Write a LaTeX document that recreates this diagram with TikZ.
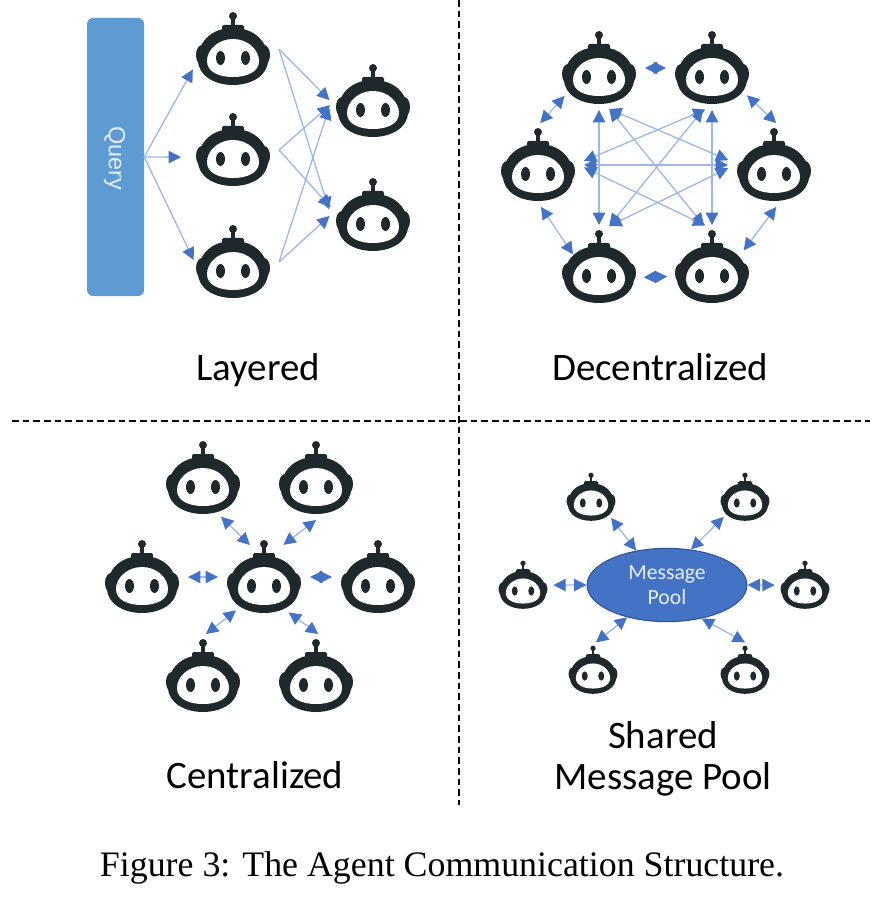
\documentclass[tikz,border=0pt]{standalone}
\usepackage{fontspec}
\setmainfont{Carlito}
\newfontfamily\didascalia{Liberation Serif}
\newfontfamily\barrafont{Liberation Sans}
\usetikzlibrary{arrows.meta,shapes.geometric}

\definecolor{inchiostro}{RGB}{31,41,43}
\definecolor{bluepunta}{RGB}{68,114,196}
\definecolor{bluefilo}{RGB}{157,184,232}
\definecolor{bluebarra}{RGB}{94,155,211}
\definecolor{bluebordo}{RGB}{47,82,143}
\definecolor{testochiaro}{RGB}{230,238,248}

\tikzset{
  punta/.tip={Triangle[color=bluepunta, length=0.37cm, width=0.37cm]},
  robot/.pic={
    \fill[inchiostro] (0,-42) circle (4);
    \fill[inchiostro] (-1.6,-42) rectangle (1.6,-28);
    \fill[inchiostro, rounded corners=0.06cm] (-11,-33) rectangle (11,-25);
    \fill[inchiostro] (-31,-3) ellipse [x radius=6, y radius=10];
    \fill[inchiostro] (31,-3) ellipse [x radius=6, y radius=10];
    \fill[inchiostro] (0,-30) .. controls (22,-30) and (35,-16) .. (35,2) .. controls (35,18) and (18,27) .. (0,27)
      .. controls (-18,27) and (-35,18) .. (-35,2) .. controls (-35,-16) and (-22,-30) .. (0,-30) -- cycle;
    \fill[white] (0,-19) .. controls (15,-19) and (26,-8) .. (26,3) .. controls (26,14) and (14,19) .. (0,19)
      .. controls (-14,19) and (-26,14) .. (-26,3) .. controls (-26,-8) and (-15,-19) .. (0,-19) -- cycle;
    \fill[inchiostro] (-12.5,0) ellipse [x radius=4.5, y radius=7];
    \fill[inchiostro] (12.5,0) ellipse [x radius=4.5, y radius=7];
    \node[ancora, transform shape] (-c) at (0,-9) {};
  }
}

\begin{document}
\begin{tikzpicture}[
  x=0.03cm, y=-0.03cm,
  ancora/.style={ellipse, inner sep=0pt, outer sep=0pt, minimum width=2.76cm, minimum height=2.52cm},
  filo/.style={draw=bluefilo, line width=0.04cm},
  freccia/.style={filo, -{punta}},
  doppia/.style={filo, {punta}-{punta}},
  etichetta/.style={inner sep=0pt, anchor=base, font=\fontsize{33.2}{35}\selectfont},
  barra/.style={fill=bluebarra, rounded corners=0.18cm, inner sep=0pt, minimum width=1.71cm, minimum height=8.34cm},
  pool/.style={ellipse, fill=bluepunta, draw=bluebordo, line width=0.03cm, inner sep=0pt, minimum width=4.8cm, minimum height=2.2cm},
  divisore/.style={draw=black, line width=0.04cm, dash pattern=on 0.2cm off 0.12cm}
]
\useasboundingbox (0,0) rectangle (882,908);

%--------------------------------------------------------------
% Divisori
%--------------------------------------------------------------
\draw[divisore] (459,0) -- (459,805);
\draw[divisore] (12,421) -- (870,421);

%--------------------------------------------------------------
% Layered
%--------------------------------------------------------------
\node[barra] (query) at (115.5,157) {};
\node[rotate=-90, inner sep=0pt, text=testochiaro, font=\barrafont\fontsize{20}{24}\selectfont] (querytesto) at (114.5,158) {Query};

\pic (lay1) at (233,58) {robot};
\pic (lay2) at (233,159) {robot};
\pic (lay3) at (233,271) {robot};
\pic (lay4) at (373,110) {robot};
\pic (lay5) at (373,224) {robot};

\draw[freccia] (query.east) -- (lay1-c.207);
\draw[freccia, shorten >=0.2cm] (query.east) -- (lay2-c.189);
\draw[freccia, shorten >=-0.33cm] (query.east) -- (lay3-c.165);

\foreach \da/\db in {lay1-c.east/lay4-c.176, lay2-c.east/lay4-c.188, lay3-c.east/lay4-c.192,
                     lay1-c.east/lay5-c.169, lay2-c.east/lay5-c.167, lay3-c.east/lay5-c.184}
  \draw[freccia, shorten >=-0.1cm] (\da) -- (\db);

\node[etichetta] (layered) at (258,380) {Layered};

%--------------------------------------------------------------
% Decentralized
%--------------------------------------------------------------
\pic (dec1) at (599,77) {robot};
\pic (dec2) at (712,77) {robot};
\pic (dec3) at (774,174) {robot};
\pic (dec4) at (712,276) {robot};
\pic (dec5) at (599,276) {robot};
\pic (dec6) at (538,174) {robot};

% anello esterno
\draw[doppia] (dec1-c.east) -- (dec2-c.west);
\draw[doppia] (dec5-c.-13) -- (dec4-c.192);
\draw[doppia] (dec6-c.87) -- (dec1-c.219);
\draw[doppia] (dec2-c.-38) -- (dec3-c.87);
\draw[doppia, shorten >=-0.51cm] (dec6-c.-86) -- (dec5-c.143);
\draw[doppia, shorten >=-0.29cm] (dec3-c.-87) -- (dec4-c.33);

% collegamenti interni
\foreach \da/\db in {dec1-c.south/dec5-c.north, dec2-c.south/dec4-c.north, dec6-c.east/dec3-c.west,
                     dec1-c.-76/dec4-c.101, dec2-c.258/dec5-c.76, dec6-c.5/dec2-c.261,
                     dec6-c.-3/dec4-c.99, dec3-c.174/dec1-c.-76, dec3-c.184/dec5-c.76}
  \draw[doppia] (\da) -- (\db);

\node[etichetta] (decentralized) at (660,380) {Decentralized};

%--------------------------------------------------------------
% Centralized
%--------------------------------------------------------------
\pic (cen0) at (264,586) {robot};
\pic (cen1) at (203,487) {robot};
\pic (cen2) at (316,487) {robot};
\pic (cen3) at (142,586) {robot};
\pic (cen4) at (378,586) {robot};
\pic (cen5) at (203,685) {robot};
\pic (cen6) at (316,685) {robot};

\draw[doppia, shorten >=-0.25cm] (cen1-c.-65) -- (cen0-c.118);
\draw[doppia, shorten >=-0.18cm] (cen2-c.south) -- (cen0-c.56);
\draw[doppia] (cen3-c.east) -- (cen0-c.west);
\draw[doppia] (cen0-c.east) -- (cen4-c.west);
\draw[doppia] (cen5-c.86) -- (cen0-c.230);
\draw[doppia] (cen0-c.-55) -- (cen6-c.87);

\node[etichetta] (centralized) at (255,788) {Centralized};

%--------------------------------------------------------------
% Shared Message Pool
%--------------------------------------------------------------
\node[pool] (messaggi) at (667,585) {};
\node[inner sep=0pt, align=center, text=testochiaro, font=\fontsize{18.5}{21}\selectfont] (messaggitesto) at (messaggi) {Message\\Pool};

\pic[scale=0.66] (sha1) at (591,503) {robot};
\pic[scale=0.66] (sha2) at (745,503) {robot};
\pic[scale=0.66] (sha3) at (523,591) {robot};
\pic[scale=0.66] (sha4) at (805,591) {robot};
\pic[scale=0.66] (sha5) at (593,676) {robot};
\pic[scale=0.66] (sha6) at (745,676) {robot};

\draw[doppia] (sha1-c.-46) -- (messaggi.132);
\draw[doppia] (sha2-c.223) -- (messaggi.56);
\draw[doppia] (sha3-c.east) -- (messaggi.west);
\draw[doppia] (messaggi.east) -- (sha4-c.west);
\draw[doppia] (sha5-c.84) -- (messaggi.219);
\draw[doppia] (messaggi.-44) -- (sha6-c.north);

\node[inner sep=0pt, align=center, font=\fontsize{33.2}{35}\selectfont] (sharedpool) at (663,758.5) {Shared\\Message Pool};

%--------------------------------------------------------------
% Didascalia
%--------------------------------------------------------------
\node[inner sep=0pt, font=\didascalia\fontsize{30.6}{34}\selectfont] (didascalia) at (442,868) {Figure 3: The Agent Communication Structure.};

\end{tikzpicture}
\end{document}
